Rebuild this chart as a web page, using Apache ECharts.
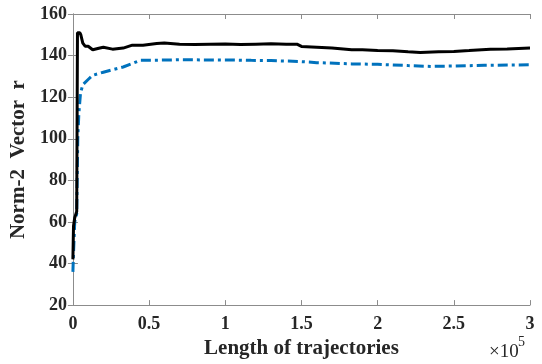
<!DOCTYPE html>
<html><head><meta charset="utf-8">
<script src="https://cdn.jsdelivr.net/npm/echarts@6/dist/echarts.min.js"></script>
<style>html,body{margin:0;padding:0;background:#fff}#c{width:542px;height:364px}</style>
</head><body><div id="c"></div>
<script>
var xTicks = [0, 0.5, 1, 1.5, 2, 2.5, 3];
var blackX = [0, 0.004, 0.012, 0.025, 0.03, 0.045, 0.052, 0.065, 0.08, 0.1, 0.13, 0.17, 0.2, 0.26, 0.33, 0.39, 0.46, 0.55, 0.6, 0.7, 0.8, 0.9, 1.0, 1.1, 1.2, 1.3, 1.4, 1.47, 1.5, 1.6, 1.7, 1.83, 1.9, 2.0, 2.1, 2.2, 2.28, 2.4, 2.5, 2.6, 2.74, 2.85, 3.0];
var blackY = [42, 58, 62, 65, 151, 151, 150, 146, 144.5, 144.5, 142.8, 143.5, 144, 143.1, 143.6, 145, 145, 145.8, 146, 145.5, 145.3, 145.5, 145.6, 145.3, 145.5, 145.7, 145.5, 145.5, 144.4, 144, 143.6, 142.8, 142.8, 142.5, 142.3, 141.8, 141.5, 141.8, 142, 142.4, 143.1, 143.2, 143.6];
var blueX = [0, 0.004, 0.012, 0.025, 0.032, 0.039, 0.05, 0.065, 0.1, 0.13, 0.2, 0.26, 0.33, 0.4, 0.44, 0.55, 0.7, 0.9, 1.1, 1.17, 1.3, 1.48, 1.6, 1.83, 2.0, 2.2, 2.35, 2.5, 2.7, 2.9, 3.0];
var blueY = [36, 45, 60, 64, 100, 112, 122, 126, 128.5, 130.5, 132, 133.2, 134.5, 136.5, 137.7, 137.8, 138, 137.9, 137.8, 137.7, 137.6, 137.2, 136.6, 136, 135.8, 135.2, 134.8, 135, 135.3, 135.5, 135.6];

function pairs(xs, ys){ return xs.map(function(x,i){ return [x, ys[i]]; }); }
var font = 'Liberation Serif';
var axisCol = '#8c8c8c';
var txtCol = '#262626';
var chart = echarts.init(document.getElementById('c'));
chart.setOption({
  animation: false,
  backgroundColor: '#fff',
  grid: {left: 71, right: 12, top: 14, bottom: 57},
  xAxis: [{
    type: 'value', min: 0, max: 3, interval: 0.5,
    name: 'Length of trajectories', nameLocation: 'middle', nameGap: 31,
    nameTextStyle: {fontFamily: font, fontWeight: 'bold', fontSize: 21, color: txtCol},
    axisLine: {show: true, lineStyle: {color: axisCol, width: 1}},
    axisTick: {show: true, inside: true, length: 5, lineStyle: {color: axisCol}},
    splitLine: {show: false},
    axisLabel: {fontFamily: font, fontWeight: 'bold', fontSize: 18, color: txtCol, margin: 10,
      formatter: function(v){ return String(v); }}
  }, {
    type: 'value', min: 0, max: 3, interval: 0.5, position: 'top',
    axisLine: {show: true, lineStyle: {color: axisCol, width: 1}},
    axisTick: {show: true, inside: true, length: 5, lineStyle: {color: axisCol}},
    axisLabel: {show: false}, splitLine: {show: false}
  }],
  yAxis: [{
    type: 'value', min: 20, max: 160, interval: 20,
    name: 'Norm-2  Vector  r', nameLocation: 'middle', nameGap: 36, nameRotate: 90,
    nameTextStyle: {fontFamily: font, fontWeight: 'bold', fontSize: 21, color: txtCol},
    axisLine: {show: true, lineStyle: {color: axisCol, width: 1}},
    axisTick: {show: true, inside: true, length: 5, lineStyle: {color: axisCol}},
    splitLine: {show: false},
    axisLabel: {fontFamily: font, fontWeight: 'bold', fontSize: 18, color: txtCol, margin: 6}
  }, {
    type: 'value', min: 20, max: 160, interval: 20, position: 'right',
    axisLine: {show: true, lineStyle: {color: axisCol, width: 1}},
    axisTick: {show: true, inside: true, length: 5, lineStyle: {color: axisCol}},
    axisLabel: {show: false}, splitLine: {show: false}
  }],
  series: [{
    type: 'line', data: pairs(blueX, blueY), showSymbol: false, z: 2,
    lineStyle: {color: '#0072BD', width: 3, type: [10, 4, 3, 4]}
  }, {
    type: 'line', data: pairs(blackX, blackY), showSymbol: false, z: 3,
    lineStyle: {color: '#000', width: 3}
  }],
  graphic: [{
    type: 'text', left: 489, top: 343,
    style: {text: '×10', fontFamily: font, fontSize: 19, fill: txtCol}
  }, {
    type: 'text', left: 518, top: 335,
    style: {text: '5', fontFamily: font, fontSize: 14, fill: txtCol}
  }]
});
</script></body></html>
